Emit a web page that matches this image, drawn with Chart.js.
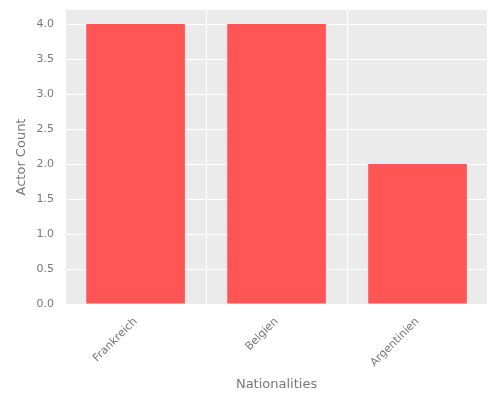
<!DOCTYPE html>
<html><head><script src="https://cdn.jsdelivr.net/npm/chart.js@4"></script>
<style>body{margin:0}#w{width:500px;height:400px}</style></head>
<body><div id="w"><canvas id="c"></canvas></div>
<script>
const categories=["Frankreich","Belgien","Argentinien"];
const counts=[4,4,2];
const bg={id:'bg',beforeDraw(ch){const a=ch.chartArea,x=ch.ctx;x.save();x.fillStyle='#EBEBEB';x.fillRect(a.left,a.top,a.right-a.left,a.bottom-a.top);x.restore();}};
Chart.defaults.font.family="DejaVu Sans";
new Chart(document.getElementById('c'),{type:'bar',
data:{labels:categories,datasets:[{data:counts,backgroundColor:'#FF5555',barPercentage:0.7,categoryPercentage:1}]},
options:{responsive:true,maintainAspectRatio:false,animation:false,
layout:{padding:{top:10,right:12,left:10,bottom:4}},
plugins:{legend:{display:false},tooltip:{enabled:false}},
scales:{
x:{grid:{color:'#fff',lineWidth:1},border:{display:false},ticks:{color:'#777',font:{size:11},maxRotation:45,minRotation:45},
title:{display:true,text:'Nationalities',color:'#777',font:{size:13}}},
y:{min:0,max:4.2,grid:{color:'#fff'},border:{display:false},
afterBuildTicks(s){s.ticks=[0,0.5,1,1.5,2,2.5,3,3.5,4].map(v=>({value:v}));},
ticks:{color:'#777',font:{size:11},callback:v=>v.toFixed(1)},
title:{display:true,text:'Actor Count',color:'#777',font:{size:13}}}}},
plugins:[bg]});
</script></body></html>
